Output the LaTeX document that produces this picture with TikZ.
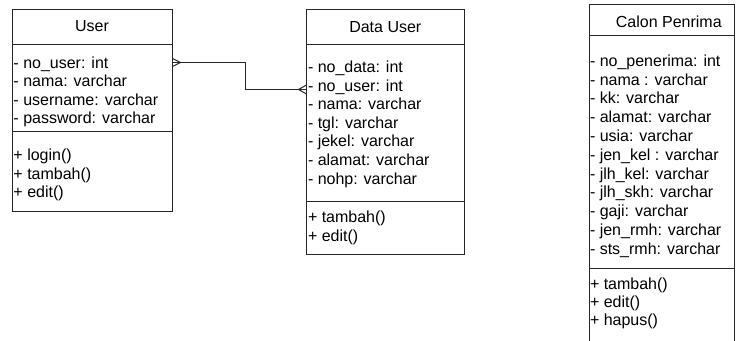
\documentclass[tikz,border=0pt]{standalone}
\usepackage{fontspec}
\setmainfont{Liberation Sans}
\begin{document}
\begin{tikzpicture}[x=0.75pt,y=-0.75pt,line width=0.75pt,
  every node/.style={inner sep=0pt,outer sep=0pt,font=\fontsize{12}{14}\selectfont},
  umlline/.style={draw=black!85,line width=0.75pt},
  classbox/.style={umlline,anchor=north west},
  member/.style={anchor=base west},
  title/.style={anchor=base}]
\useasboundingbox (0,0) rectangle (736,340);
\clip (0,0) rectangle (736,340);

% class User
\node (user) [classbox,minimum width=120pt,minimum height=151.5pt] at (12.5,9.5) {};
\draw[umlline] (user.west |- 0,44.5) -- (user.east |- 0,44.5);
\draw[umlline] (user.west |- 0,131.5) -- (user.east |- 0,131.5);
\node (usertitle) [title] at (92,31.2) {User};
\foreach \t [count=\i] in {- no\_user: int,- nama: varchar,- username: varchar,- password: varchar}
  \node (ua\i) [member] at (13.5,68.2+18.4*\i-18.4) {\t};
\foreach \t [count=\i] in {+ login(),+ tambah(),+ edit()}
  \node (um\i) [member] at (13.5,160.8+18.4*\i-18.4) {\t};

% class Data User
\node (duser) [classbox,minimum width=118.5pt,minimum height=183.75pt] at (306.5,9.5) {};
\draw[umlline] (duser.west |- 0,44.5) -- (duser.east |- 0,44.5);
\draw[umlline] (duser.west |- 0,201.5) -- (duser.east |- 0,201.5);
\node (dusertitle) [title] at (385.3,32.5) {Data User};
\foreach \t [count=\i] in {- no\_data: int,- no\_user: int,- nama: varchar,- tgl: varchar,- jekel: varchar,- alamat: varchar,- nohp: varchar}
  \node (da\i) [member] at (308,72.5+18.6*\i-18.6) {\t};
\foreach \t [count=\i] in {+ tambah(),+ edit()}
  \node (dm\i) [member] at (308,222.5+18.6*\i-18.6) {\t};

% class Calon Penrima (continues past the lower edge)
\node (calon) [anchor=north west,minimum width=108.75pt,minimum height=256pt] at (589.5,4.5) {};
\draw[umlline] (calon.south west) -- (calon.north west) -- (calon.north east) -- (calon.south east);
\draw[umlline] (calon.west |- 0,35.5) -- (calon.east |- 0,35.5);
\draw[umlline] (calon.west |- 0,268.5) -- (calon.east |- 0,268.5);
\node (calontitle) [title] at (668.8,27) {Calon Penrima};
\foreach \t [count=\i] in {- no\_penerima: int,- nama : varchar,- kk: varchar,- alamat: varchar,- usia: varchar,- jen\_kel : varchar,- jlh\_kel: varchar,- jlh\_skh: varchar,- gaji: varchar,- jen\_rmh: varchar,- sts\_rmh: varchar}
  \node (ca\i) [member] at (590,66.2+18.8*\i-18.8) {\t};
\foreach \t [count=\i] in {+ tambah(),+ edit(),+ hapus()}
  \node (cm\i) [member] at (590,289+18.4*\i-18.4) {\t};

% association User -- Data User with crow's feet at both ends
\coordinate (ufoot) at (180.5,62.5);
\coordinate (dfoot) at (298.5,89.5);
\draw[umlline] (user.east |- ufoot) -- ++(73,0) |- (duser.west |- dfoot);
\draw[umlline] (user.east |- 0,58.5) -- (ufoot) -- (user.east |- 0,66.5);
\draw[umlline] (duser.west |- 0,85) -- (dfoot) -- (duser.west |- 0,94);
\end{tikzpicture}
\end{document}
